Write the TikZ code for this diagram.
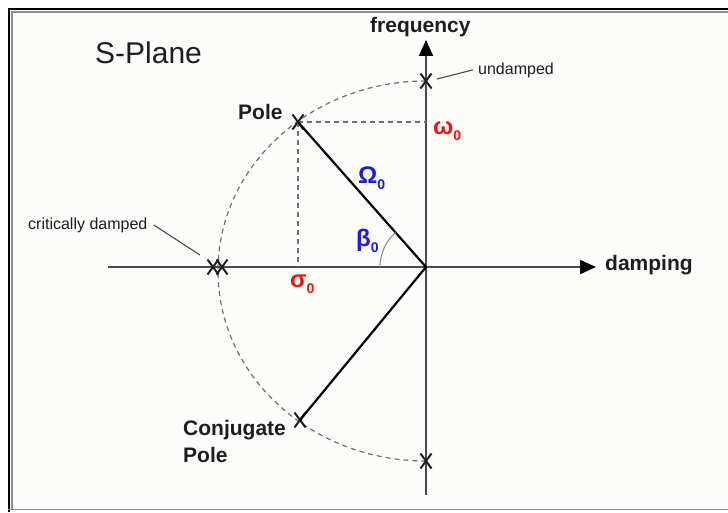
\documentclass[tikz,border=0pt]{standalone}
\usepackage{fontspec}
\setmainfont{Liberation Sans}
\usetikzlibrary{arrows.meta,shapes.misc}
\definecolor{axisgray}{HTML}{4A4A4A}
\definecolor{dashgray}{HTML}{6E6E6E}
\definecolor{arcgray}{HTML}{8A8A8A}
\definecolor{labelblack}{HTML}{1E1E1E}
\definecolor{polered}{HTML}{F01010}
\definecolor{poleblue}{HTML}{1A1AF0}
\definecolor{paper}{HTML}{FCFCFA}
\definecolor{framegray}{HTML}{8C8C8C}
\newcommand{\zsub}[1]{\raisebox{-6pt}{\fontsize{14}{14}\selectfont #1}}
\begin{document}
\begin{tikzpicture}[x=1pt,y=1pt,
  axis/.style={draw=axisgray,line width=2pt},
  pline/.style={draw=black,line width=2.2pt},
  guide/.style={draw=dashgray,line width=1.2pt,dash pattern=on 5pt off 4pt},
  leader/.style={draw=axisgray,line width=1.1pt},
  xmark/.style={cross out,draw=labelblack,line width=2pt,minimum width=11pt,minimum height=15pt,inner sep=0pt,outer sep=0pt},
  lbl/.style={font=\fontsize{21}{27}\selectfont\bfseries,anchor=base west,inner sep=0pt,text=labelblack},
  smalllbl/.style={font=\fontsize{16}{18}\selectfont,anchor=base west,inner sep=0pt,text=labelblack},
  greek/.style={font=\fontsize{24}{26}\selectfont\bfseries,anchor=base west,inner sep=0pt},
]
% canvas and frame
\useasboundingbox (-426,267) rectangle (302,-245);
\fill[white] (-426,267) rectangle (302,-245);
\fill[paper] (-416,257) rectangle (302,-242);
\draw[black,line width=2pt] (-417,-245) -- (-417,258) -- (302,258);
\draw[framegray,line width=2pt] (-414,-242) -- (-414,255) -- (302,255);
\draw[framegray,line width=1.5pt] (-418,-242.5) -- (302,-242.5);

% origin and ellipse
\coordinate (O) at (0,0);
\draw[guide] (0,186) arc[start angle=90,end angle=270,x radius=208,y radius=190];

% axes
\coordinate (hL) at (-318,0);
\coordinate (hR) at (170,0);
\coordinate (vB) at (0,-228);
\coordinate (vT) at (0,227);
\draw[axis,-{Triangle[length=16pt,width=14pt,black]}] (hL) -- (hR);
\draw[axis,-{Triangle[length=16pt,width=14pt,black]}] (vB) -- (vT);

% pole marks
\node[xmark] (xP) at (-128,145) {};
\node[xmark] (xC) at (-126,-153) {};
\node[xmark] (xU) at (0,186) {};
\node[xmark] (xL) at (0,-194) {};
\node[xmark] (xK1) at (-213,0) {};
\node[xmark] (xK2) at (-204,0) {};

% projections
\coordinate (wP) at (0,145);
\coordinate (sP) at (-128,0);
\draw[guide] (xP.center) -- (wP);
\draw[guide] (xP.center) -- (sP);

% pole vectors
\draw[pline] (O) -- (xP.center);
\draw[pline] (O) -- (xC.center);

% angle
\draw[arcgray,line width=1pt] (-46,0) arc[start angle=180,end angle=131.4,radius=46];

% labels
\node[font=\fontsize{30}{32}\selectfont,anchor=base west,inner sep=0pt,text=labelblack] (title) at (-331,204) {S-Plane};
\node[lbl] (freq) at (-56,234) {frequency};
\node[lbl] (damp) at (179,-3) {damping};
\node[lbl] (polelbl) at (-188,148) {Pole};
\node[lbl,align=left] (conjlbl) at (-243,-195) {Conjugate\\Pole};
\node[smalllbl] (critlbl) at (-398,38) {critically damped};
\node[smalllbl] (undlbl) at (52,193) {undamped};

\node[greek,text=polered] (wlbl) at (7,133) {ω\zsub{0}};
\node[greek,text=polered] (slbl) at (-136,-20) {σ\zsub{0}};
\node[greek,text=poleblue] (Wlbl) at (-68,84) {Ω\zsub{0}};
\node[greek,text=poleblue] (blbl) at (-70,21) {β\zsub{0}};

% leaders
\coordinate (kB) at (-226,12);
\coordinate (uA) at (11,188);
\draw[leader] ([xshift=6pt]critlbl.east) -- (kB);
\draw[leader] ([xshift=-5pt]undlbl.west) -- (uA);
\end{tikzpicture}
\end{document}
